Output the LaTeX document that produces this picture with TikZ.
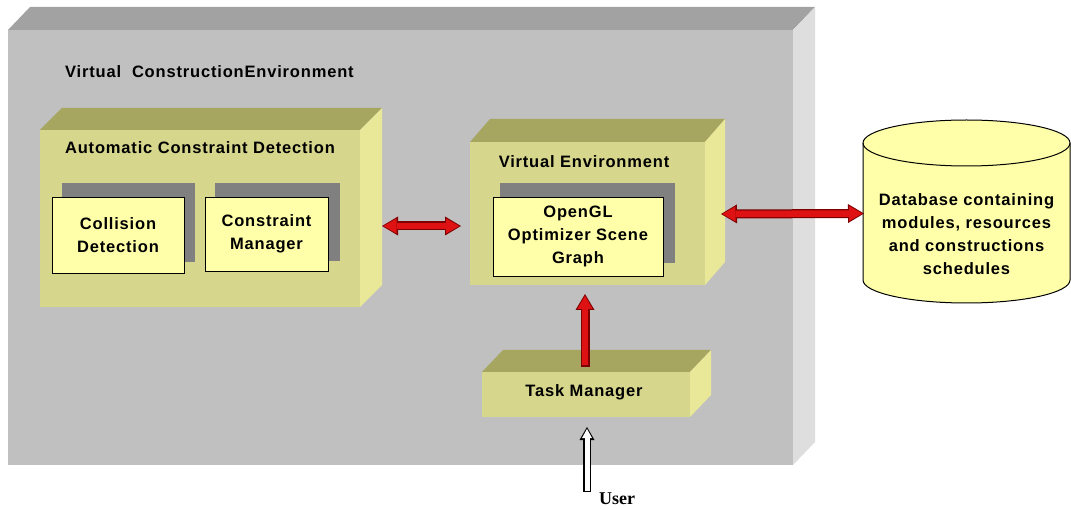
\documentclass[tikz,border=0pt]{standalone}
\usepackage{fontspec}
\setmainfont{Liberation Sans}[LetterSpace=5]
\newfontfamily\userfont{Liberation Serif}
\usetikzlibrary{arrows.meta,calc}
\definecolor{bigfront}{RGB}{192,192,192}
\definecolor{bigtop}{RGB}{162,162,162}
\definecolor{bigside}{RGB}{222,222,222}
\definecolor{olfront}{RGB}{214,214,140}
\definecolor{oltop}{RGB}{166,166,96}
\definecolor{olside}{RGB}{232,232,152}
\definecolor{paleyel}{RGB}{255,255,170}
\definecolor{shadowgray}{RGB}{128,128,128}
\definecolor{arrred}{RGB}{222,18,18}
\definecolor{arrdark}{RGB}{125,0,0}
\tikzset{
  rtip/.tip={Triangle[length=13pt,width=15pt,line width=0pt]},
  rtipo/.tip={Triangle[length=16pt,width=19pt,line width=0pt]},
  face/.style={rectangle,inner sep=0pt,outer sep=0pt,anchor=north west},
  shadowbox/.style={face,fill=shadowgray},
  innerbox/.style={face,fill=paleyel,draw=black,line width=0.9pt,align=center},
  redbase/.style={draw=arrred,line width=6.5pt,shorten <=1.5pt,shorten >=1.8pt},
  redboth/.style={redbase,arrows={rtip-rtip},
    preaction={draw=arrdark,line width=9pt,shorten <=0pt,shorten >=0pt,arrows={rtipo-rtipo}}},
  redone/.style={redbase,arrows={-rtip},
    preaction={draw=arrdark,line width=9pt,shorten <=0pt,shorten >=0pt,arrows={-rtipo}}},
  whitearrow/.style={draw=white,line width=5pt,shorten <=1.3pt,shorten >=2pt,
    arrows={-Triangle[length=9pt,width=10pt,line width=0pt]},
    preaction={draw=black,line width=7.5pt,shorten <=0pt,shorten >=0pt,
      arrows={-Triangle[length=13pt,width=15pt,line width=0pt]}}},
  txt/.style={inner sep=0pt,align=center},
}
\begin{document}
\begin{tikzpicture}[x=1pt,y=-1pt,font=\bfseries\fontsize{16.5}{22.75}\selectfont]
\useasboundingbox[fill=white] (0,0) rectangle (1071,510);

% outer box
\node[face,fill=bigfront,minimum width=785pt,minimum height=435pt] (cenv) at (8,30) {};
\fill[bigtop] (cenv.north west) -- ++(22,-23) -- ($(cenv.north east)+(22,-23)$) -- (cenv.north east) -- cycle;
\fill[bigside] (cenv.north east) -- ++(22,-23) -- ($(cenv.south east)+(22,-23)$) -- (cenv.south east) -- cycle;
\node[txt,anchor=west] (ctitle) at (65,72) {Virtual\ \ ConstructionEnvironment};

% Automatic Constraint Detection
\node[face,fill=olfront,minimum width=320pt,minimum height=177pt] (acd) at (40,130) {};
\fill[oltop] (acd.north west) -- ++(22,-22) -- ($(acd.north east)+(22,-22)$) -- (acd.north east) -- cycle;
\fill[olside] (acd.north east) -- ++(22,-22) -- ($(acd.south east)+(22,-22)$) -- (acd.south east) -- cycle;
\node[txt] (acdt) at (200,148) {Automatic Constraint Detection};
\node[shadowbox,minimum width=133pt,minimum height=79pt] (cds) at (62,183) {};
\node[innerbox,minimum width=132pt,minimum height=76pt] (cd) at (52,197) {Collision\\Detection};
\node[shadowbox,minimum width=125pt,minimum height=78pt] (cms) at (215,183) {};
\node[innerbox,minimum width=123pt,minimum height=74pt] (cm) at (205,197) {Constraint\\Manager};

% Virtual Environment
\node[face,fill=olfront,minimum width=235pt,minimum height=143pt] (ve) at (470,142) {};
\fill[oltop] (ve.north west) -- ++(20,-23) -- ($(ve.north east)+(20,-23)$) -- (ve.north east) -- cycle;
\fill[olside] (ve.north east) -- ++(20,-23) -- ($(ve.south east)+(20,-23)$) -- (ve.south east) -- cycle;
\node[txt] (vet) at (584,162) {Virtual Environment};
\node[shadowbox,minimum width=175pt,minimum height=80pt] (ogs) at (500,183) {};
\node[innerbox,minimum width=170pt,minimum height=79pt] (og) at (493,197) {OpenGL\\Optimizer Scene\\Graph};

% Task Manager
\node[face,fill=olfront,minimum width=208pt,minimum height=45pt] (tm) at (482,372) {};
\fill[oltop] (tm.north west) -- ++(21,-22) -- ($(tm.north east)+(21,-22)$) -- (tm.north east) -- cycle;
\fill[olside] (tm.north east) -- ++(21,-22) -- ($(tm.south east)+(21,-22)$) -- (tm.south east) -- cycle;
\node[txt] (tmt) at (584,392) {Task Manager};

% Database cylinder
\node[face,minimum width=207pt,minimum height=137pt] (db) at (863,143) {};
\filldraw[fill=paleyel,draw=black,line width=1pt]
  (db.north west) -- (db.south west)
  arc[start angle=180,end angle=360,x radius=103.5pt,y radius=23pt]
  -- (db.north east)
  arc[start angle=0,end angle=180,x radius=103.5pt,y radius=23pt] -- cycle;
\draw[line width=1pt] (db.north west) arc[start angle=180,end angle=360,x radius=103.5pt,y radius=23pt];
\node[txt] (dbt) at (966.5,234) {Database containing\\modules, resources\\and constructions\\schedules};

% connectors
\draw[redboth] ($(acd.east)+(22,7.5)$) -- ($(ve.west)+(-9,12.5)$);
\draw[redboth] ($(ve.east)+(16,0.5)$) -- ($(db.west)+(1,2)$);
\draw[redone] ($(tm.north)+(-1,-5)$) -- ($(ve.south)+(-2.5,9)$);

% user
\node[inner sep=0pt,font=\userfont\bfseries\fontsize{18}{20}\selectfont] (user) at (617,499) {User};
\coordinate (ustart) at (587,492);
\draw[whitearrow] (ustart) -- ($(tm.south)+(1,10)$);
\end{tikzpicture}
\end{document}
